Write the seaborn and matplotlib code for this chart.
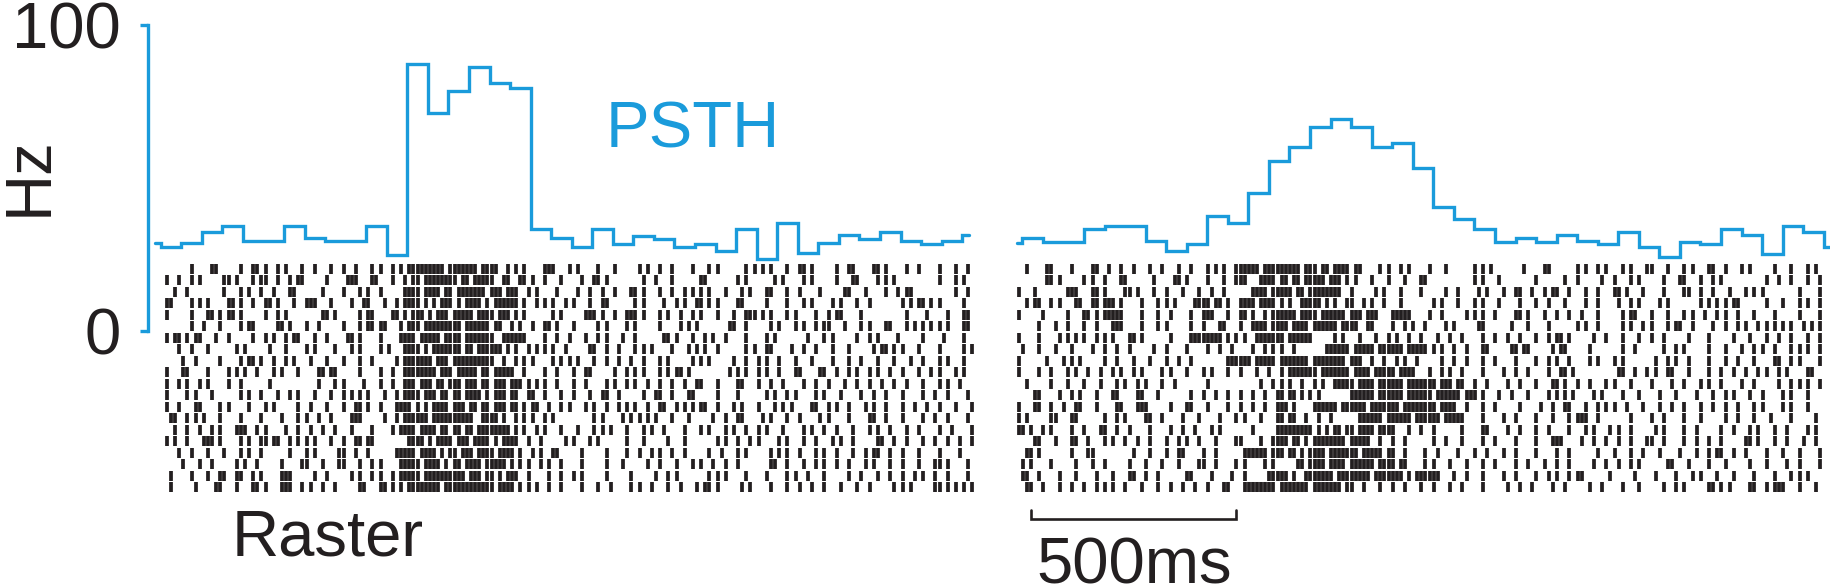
import matplotlib.pyplot as plt
import numpy as np
import pandas as pd
import seaborn as sns

# PSTH firing rate (Hz), 50 ms bins; first and last bins are cut by the panel edges
left_edges = [-14] + list(range(0, 2000, 50)) + [1967]
left_rates = [28.7,
              27.6, 28.7, 32.5, 34.3, 29.5, 29.5, 34.3, 30.3, 29.5, 29.5,
              34.3, 24.8, 87.3, 71.3, 78.4, 86.4, 81.1, 79.5, 33.2, 30.3,
              27.6, 33.2, 28.4, 31.0, 30.2, 27.4, 28.4, 26.2, 33.2, 23.4,
              35.4, 25.6, 28.9, 31.4, 30.2, 32.5, 29.4, 28.4, 29.5,
              31.4]

right_edges = [-13] + list(range(0, 2000, 50)) + [1980]
right_rates = [28.6,
               30.5, 29.2, 29.2, 33.3, 34.4, 34.4, 29.5, 26.1, 28.4, 37.6,
               35.2, 45.2, 55.7, 60.2, 66.6, 69.3, 66.6, 60.2, 61.3, 53.2,
               40.4, 36.5, 33.2, 29.2, 30.5, 29.2, 31.4, 29.4, 28.3, 32.5,
               27.6, 24.3, 29.2, 28.4, 33.3, 31.4, 25.2, 34.3, 32.5,
               27.6]

# raster: spike bins (10 ms each) per trial, "a-b" = spike in every bin a..b
left_rows = [
    "7 12 13 19 22 23 25 28 30 34 37 41 44 47 51 53 56 58 60-68 70-76 78-81 84 86 88 93 94 95 99 101 106 110 116 118 121 124 129 133 135 142 144 146 148 152 155 156 158 164 167 168 173 174 176 181 184 189 193 196",
    "1 4 7 9 15 16 18 22 24 25 28 31 33 34 40 45 46 47 51 52 56 59 61 62 64-71 73 74 76-80 83 84 87 88 90 93 97 102 105 106 108 117 120 124 131 132 140 142 149 151 156 158 164 168 169 174 176 178 189 193 195",
    "3 6 15 19 21 24 27 31 32 39 44 48 50 53 59-62 64-67 69 70 72-78 80-82 84-86 89 91 96 101 104 107 110 114 115 117 121 124 127 129 131 133 137 141 143 147 148 152 155 160 166 167 171 176 179 181 182 193 196",
    "1 2 7 9 11 16 17 19 22 25 26 28 32 35 36 37 41 46 49 50 54 57 59-62 64 66 68-70 72 74-77 79 81-86 88 91 93 95 98 100 104 107 108 115 117 122 125 127 130 131 133 135 140 141 147 152 156 158 163 165 169 172 180 182 184 185 187 189 195",
    "1 7 11 12 14 16 17 19 25 28 30 39 40 42 48 50 51 56 57 59 61-63 65 67-69 71-75 77-80 82-84 86 88 95 97 103 104 105 107 110 113 114 115 117 121 123 126 129 131 135 139 142 143 144 146 148 152 154 159 162 164 165 170 181 186 191 195 196",
    "7 10 14 19 21 22 28 29 31 35 38 44 48 50 51 53 54 58 60-62 64-72 74-79 81 82 85 87 90 93 94 96 100 106 108 113 115 121 126 128 130 138 139 142 148 150 154 156 159 161 162 166 170 172 176 177 181 183 185 187 189 191 195 196",
    "1 3 4 6 8 9 13 16 22 25 27 30 32 33 37 40 45 46 48 53 58-61 63-67 69-72 74-80 83-88 93 96 99 103 106 108 112 115 122 123 125 129 132 134 137 142 147 149 157 161 163 169 172 174 179 185 190 195",
    "4 7 11 18 20 26 30 35 37 42 46 48 53 55 59-62 64 66-72 74 75 77-82 84 86 89 91 93 95 98 104 105 108 111 115 117 119 124 128 130 132 135 142 144 147 148 153 156 159 163 167 173 175 176 178 180 184 189 195 197",
    "5 8 14 19 21 22 24 27 30 32 36 40 44 48 51 57 59-65 67-69 71-80 83 86 88 90 95 97 99 101 105 108 111 114 117 121 123 129 131 133 139 142 145 147 150 154 158 163 167 170 174 178 182 185 189 191 195",
    "1 5 6 11 16 18 20 23 27 29 33 38 39 41 42 48 53 56 59-66 68-70 72-76 78 79 81-85 88 93 96 100 103 104 110 113 115 117 121 123 125 126 128 138 140 142 145 147 150 154 155 160 161 164 167 169 172 174 177 180 184 187 189 193 195",
    "1 4 6 9 11 16 19 26 38 42 44 49 53 56 59-61 63-65 67 68 70-72 74-76 78 79 81-83 85-87 89 91 93 96 100 103 108 110 113 115 118 121 124 127 130 131 135 140 141 145 148 151 156 159 162 166 169 172 175 178 181 185 189 191 194",
    "1 6 8 12 19 21 24 28 31 33 37 41 44 46 48 50 54 57 59-62 64-66 68 69 71 72 74-77 79 81-83 85 86 89 90 93 97 100 104 107 108 111 117 120 121 124 128 129 135 140 147 149 152 154 159 161 165 170 173 176 180 185 188 191 196",
    "1 4 8 9 14 16 21 25 27 33 36 40 44 47 48 50 53 57-60 62 64 66-69 71-73 75 76 78 79 81-83 85 86 88 90 91 94 97 99 103 105 108 111 113 115 118 121 122 125 127 129 131 132 135 139 141 145 149 151 153 158 159 162 164 167 171 173 176 180 183 186 189 193 197",
    "2 3 6 8 10 14 19 24 29 33 35 38 41 46 47 48 54 57 59-64 66-75 78-81 83 86 88 90 93 95 105 107 112 114 116 118 120 124 128 134 137 140 141 146 148 152 155 160 162 167 172 173 176 180 185 188 191 196",
    "3 6 9 12 14 18 19 20 23 25 30 33 36 39 42 46 51 56 58-61 63-66 68 69 71 72 74 75 77-84 86 88 91 93 97 101 105 107 109 113 117 119 122 127 131 133 137 139 142 145 147 151 156 158 161 164 168 172 174 177 181 184 189 192 197",
    "1 3 6 10 11 12 14 19 21 24 25 27 28 31 33 35 37 41 44 47 48 50 51 60-63 65 67-70 72-74 76-79 81 83-86 89 92 98 100 104 106 113 117 123 127 135 137 140 143 145 150 152 156 159 163 165 168 174 175 178 181 185 188 191 194 197",
    "4 7 11 15 19 21 24 31 35 37 43 44 47 50 57-61 63-66 68 70 71 73-75 77-80 82-85 87 90 92 95 96 102 108 113 116 119 121 124 127 133 136 140 142 148 150 152 155 159 161 164 168 171 173 174 177 180 184 189 194",
    "5 9 12 18 20 23 29 34 35 39 43 44 48 51 53 58-62 64-67 69 71 72 74-77 79-83 85 87 89 92 94 97 102 108 112 118 121 125 129 131 134 137 140 148 149 152 156 159 161 164 167 171 173 177 180 184 188 189 191 196",
    "2 7 11 14 15 18 19 22 24 29 30 31 37 40 46 48 51 53 56 58-62 64-73 75-77 79 80 82 84-86 89 94 97 100 102 108 114 120 123 125 133 135 137 142 147 152 154 157 161 167 170 174 177 180 183 185 188 191 196",
    "2 8 13 14 18 22 23 25 29 30 31 34 36 39 42 48 49 53 54 56 58 60-67 69-80 82-85 87 89 91 94 97 102 106 109 114 116 119 123 126 130 132 133 135 141 143 148 152 155 158 161 165 169 172 178 180 182 188 189 191 193 195 197",
]

right_rows = [
    "2 7 8 13 18 19 22 25 28 32 35 39 42 46 48 50 53-58 60-68 70-72 74 75 77-80 82 83 88 90 93 95 100 104 111 113 115 123 128 129 136 138 141 143 147 149 153 154 158 162 164 168 169 172 176 178 184 188 192 194",
    "7 8 10 16 18 21 25 26 33 38 39 41 46 50 53 54 55 59-62 64 65 67 68 70-74 76-78 80 82 86 90 94 98 99 111 113 117 126 133 136 142 145 149 151 157 161 162 166 169 171 182 185 188 192 195",
    "0 4 12 13 14 18 19 21 26 27 29 33 36 40 44 47 50 57-60 62-66 68 69 71-78 81 87 89 93 98 104 107 112 114 118 121 122 125 128 130 131 134 138 141 145 146 148 152 157 162 163 166 169 173 177 179 181 190 195",
    "2 4 5 8 10 14 15 18 19 21 22 23 25 30 34 36 38 43-46 48 49 51 54-57 59-62 64 66 69-73 75 77 80 81 84 86 89 93 101 103 107 111 113 117 122 126 129 133 138 141 146 149 151 156 158 166 168 170 172 174 175 182 186 190 192 195",
    "0 6 12 16 17 19 21 22 23 24 25 30 34 37 42 45 46 47 51 54 55 57 60 62-67 69-72 74-79 81-83 85-87 91-95 100 103 109 111 113 116 121 122 124 128 131 134 137 141 147 149 150 154 158 162 164 167 170 172 175 179 184 190 195",
    "5 9 12 16 19 23 24 25 30 34 36 42 45 49 50 54 57-60 62-65 67-70 72-77 79-82 85 86 91 94 96 99 104 106 112 113 120 124 129 136 138 141 147 149 152 154 158 160 161 164 169 172 175 177 180 182 184 186 188 191 193 195",
    "0 5 10 12 14 16 19 21 23 27 28 30 37 42-49 51 53 55 58-64 66-71 77 79 83 87 90 92 95 98 102 105 108 113 116 119 122 126 129 131 132 134 140 143 147 151 154 157 163 168 174 178 182 185 188 192 195",
    "1 5 9 13 18 21 24 27 33 36 41 46 49 52 57 60 62 64 67 75-80 82-86 88-93 95-99 101 103 106 109 113 114 120 121 123 124 130 132 133 139 147 150 157 160 162 168 172 176 179 181 184 188 190 192 195",
    "0 7 11 13 15 21 24 28 32 36 39 42 51-56 58-62 64-70 72-79 81-83 86 89 92 94 97 103 106 109 113 116 121 126 129 131 134 139 141 145 147 155 158 160 163 168 172 175 179 184 185 188 190 195",
    "0 5 8 12 14 17 20 23 25 28 30 35 37 41 45 47 51 54 58 61 64 66-72 74-80 82-85 87-91 93-96 100 103 105 108 113 118 121 124 129 132 133 135 146 147 150 153 155 158 159 163 168 171 174 177 180 182 185 187 192 193",
    "2 8 12 16 20 24 26 29 31 35 38 46 59 62 64 66 69 72 74 77-81 83-86 88-93 95-101 103-105 107 108 111 114 119 122 126 130 131 133 136 139 143 145 149 154 159 162 166 168 171 176 179 185 188 190 192 195",
    "4 5 10 13 15 19 23 24 29 30 34 42 45 48 51 54 57 60 63 64 66 67 69 71 73 81-86 88-93 95-100 102-107 109-111 113 117 120 124 129 131 133 135 140 142 147 151 156 160 165 169 172 174 178 181 186 188 192",
    "0 4 5 8 11 14 15 19 24 25 29 30 31 37 41 42 46 51 54 57 60 63 64 65 67 72-77 79-84 86-92 94-101 103-106 109 113 116 122 127 130 133 134 138 141 143 145 148 152 156 159 162 166 169 172 175 179 181 186 188 192",
    "0 2 8 9 13 14 21 24 26 31 32 35 40 44 49 53 55 59 63 64 66 67 70 73 76 83-88 90-95 97-102 104-108 113 118 121 126 130 134 136 137 138 141 149 154 157 162 166 172 175 179 183 188 194",
    "0 1 3 6 8 13 16 20 21 24 27 32 37 40 43 47 49 57 63 64-71 73 75 77 78 80 81 83-86 88-91 95 98 101 108 113 114 119 122 126 129 134 138 140 144 146 149 155 157 162 165 171 174 178 180 184 187 192 194",
    "4 5 9 13 14 17 21 23 26 29 32 36 39 41 44 48 53 54 59 62 63 64 65 67 68 70 72-79 81-85 88 91 94 101 104 108 113 116 121 126 130 131 132 137 140 143 146 149 153 154 157 162 165 168 171 177 178 180 184 187 191 194",
    "2 3 5 13 17 18 28 32 36 39 40 45 48 55-60 62-64 66 67 69 71-74 76-82 84-88 90 91 94 99 102 107 111 114 118 121 126 131 134 141 145 149 152 156 161 165 168 170 171 174 177 182 186 190 195",
    "1 3 8 14 18 21 27 31 35 39 44 45 48 53 55 60 62 68 69 71-74 76-79 81-86 88-91 93 94 99 101 105 109 113 116 121 124 128 131 134 140 143 146 149 151 158 159 163 168 172 178 182 187 190 195",
    "1 2 5 10 14 19 23 27 28 31 34 41 42 47 52 55 61-65 67 70-76 78-85 87-93 95 97-102 106 109 113 118 121 126 129 131 134 136 137 144 150 155 160 164 166 170 174 179 184 188 190 192",
    "2 3 6 10 13 16 19 21 23 26 30 34 37 40 43 46 50 51 55-62 64-70 72-78 80 81 84 88 91 94 98 101 105 108 113 119 122 125 130 133 139 142 147 151 157 160 162 168 169 171 173 178 179 182 184 185 186 190 194",
]

BLUE = "#1a9bdb"
BLACK = "#231f20"
W, H = 1830, 587
PX_PER_MS = 0.411


def parse_bins(row):
    bins = []
    for tok in row.split():
        if "-" in tok:
            a, b = tok.split("-")
            bins.extend(range(int(a), int(b) + 1))
        else:
            bins.append(int(tok))
    return sorted(set(bins))


def raster_frame(rows, offset):
    recs = []
    for trial, row in enumerate(rows):
        for b in parse_bins(row):
            recs.append({"t": b * 10 + offset, "trial": trial})
    return pd.DataFrame(recs)


def rect(x0, x1, y0, y1):
    # pixel box (y from top) -> figure fraction
    return [x0 / W, 1 - y1 / H, (x1 - x0) / W, (y1 - y0) / H]


sns.set_style("white")
plt.rcParams["font.family"] = ["Liberation Sans", "DejaVu Sans"]

fig = plt.figure(figsize=(W / 100, H / 100), dpi=100)

panels = [
    dict(x0=148, x1=980, origin=160.7, edges=left_edges, rates=left_rates,
         rows=left_rows, offset=5, axis=True),
    dict(x0=1005, x1=1830, origin=1022.3, edges=right_edges, rates=right_rates,
         rows=right_rows, offset=-9, axis=False),
]

for p in panels:
    xlim = ((p["x0"] - p["origin"]) / PX_PER_MS, (p["x1"] - p["origin"]) / PX_PER_MS)

    # raster
    ax_r = fig.add_axes(rect(p["x0"], p["x1"], 263, 493))
    ax_r.set_facecolor("none")
    sns.scatterplot(data=raster_frame(p["rows"], p["offset"]), x="t", y="trial",
                    marker="|", s=50, linewidth=2.7, color=BLACK, legend=False, ax=ax_r)
    ax_r.set_xlim(xlim)
    ax_r.set_ylim(len(p["rows"]) - 0.5, -0.5)
    ax_r.axis("off")
    p["ax_r"] = ax_r

    # PSTH
    ax_p = fig.add_axes(rect(p["x0"], p["x1"], 25, 331))
    ax_p.set_facecolor("none")
    df_p = pd.DataFrame({"t": p["edges"], "rate": p["rates"] + [p["rates"][-1]]})
    sns.lineplot(data=df_p, x="t", y="rate", drawstyle="steps-post", estimator=None,
                 sort=False, color=BLUE, linewidth=2.4, solid_joinstyle="miter", ax=ax_p)
    ax_p.set_xlim(xlim)
    ax_p.set_ylim(0, 100)
    ax_p.set_xlabel("")
    ax_p.set_ylabel("")
    if p["axis"]:
        for side in ["top", "right", "bottom"]:
            ax_p.spines[side].set_visible(False)
        ax_p.spines["left"].set_color(BLUE)
        ax_p.spines["left"].set_linewidth(2.4)
        ax_p.set_xticks([])
        ax_p.set_yticks([0, 100])
        ax_p.set_yticklabels(["0", "100"], fontsize=47, color=BLACK)
        ax_p.tick_params(axis="y", direction="out", length=5.8, width=2.4,
                         color=BLUE, pad=13.5, left=True)
    else:
        ax_p.axis("off")

# 500 ms scale bar under the right raster
ax_sb = panels[1]["ax_r"]
bar_start, bar_len = 21, 500
ax_sb.plot([bar_start, bar_start, bar_start + bar_len, bar_start + bar_len],
           [21.0, 21.76, 21.76, 21.0], color=BLACK, lw=1.9, clip_on=False,
           solid_joinstyle="miter")

fig.text(693 / W, 1 - 147 / H, "PSTH", color=BLUE, fontsize=47, ha="center", va="baseline")
fig.text(328 / W, 1 - 555 / H, "Raster", color=BLACK, fontsize=47, ha="center", va="baseline")
fig.text(1134 / W, 1 - 583 / H, "500ms", color=BLACK, fontsize=47, ha="center", va="baseline")
fig.text(30 / W, 1 - 176 / H, "Hz", color=BLACK, fontsize=47, rotation=90, ha="center", va="center")

fig.savefig("out.png", dpi=100)
